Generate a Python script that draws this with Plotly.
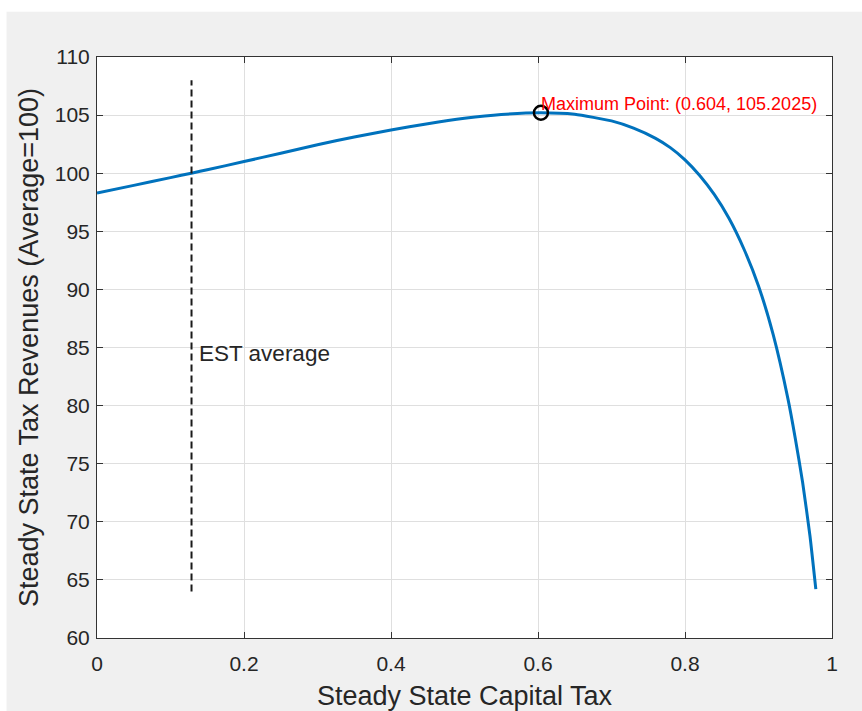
import plotly.graph_objects as go

# Steady-state capital tax rate and resulting tax revenues (average = 100)
capital_tax = [0.00, 0.05, 0.10, 0.13, 0.15, 0.20, 0.25, 0.30, 0.35, 0.40,
               0.45, 0.50, 0.55, 0.604, 0.65, 0.70, 0.73, 0.76, 0.78, 0.80,
               0.82, 0.84, 0.86, 0.88, 0.90, 0.92, 0.94, 0.95, 0.96, 0.97, 0.978]
tax_revenue = [98.30, 98.95, 99.62, 100.02, 100.30, 101.00, 101.72, 102.45, 103.12, 103.72,
               104.26, 104.72, 105.05, 105.2025, 105.07, 104.50, 103.88, 103.00, 102.20, 101.15,
               99.80, 98.15, 96.10, 93.50, 90.30, 86.10, 80.60, 77.20, 73.40, 68.80, 64.20]

# Revenue-maximising point
max_x = 0.604
max_y = 105.2025

# EST average marker line
est_x = [0.1286, 0.1286]
est_y = [64, 108]

x_ticks = [0, 0.2, 0.4, 0.6, 0.8, 1]
x_tick_text = ["0", "0.2", "0.4", "0.6", "0.8", "1"]
y_ticks = [60, 65, 70, 75, 80, 85, 90, 95, 100, 105, 110]
y_tick_text = [str(v) for v in y_ticks]

FONT = "Liberation Sans, Arial, Helvetica, sans-serif"
INK = "#262626"

fig = go.Figure()

fig.add_trace(go.Scatter(
    x=capital_tax, y=tax_revenue, mode="lines",
    line=dict(color="#0072BD", width=3, shape="spline", smoothing=0.5),
    hoverinfo="x+y", showlegend=False,
))

fig.add_trace(go.Scatter(
    x=est_x, y=est_y, mode="lines",
    line=dict(color="#1a1a1a", width=2, dash="7px,4px"),
    showlegend=False,
))

fig.add_trace(go.Scatter(
    x=[max_x], y=[max_y], mode="markers",
    marker=dict(symbol="circle-open", size=14, color="black", line=dict(width=2.5, color="black")),
    showlegend=False,
))

fig.add_annotation(
    x=max_x, y=max_y, xref="x", yref="y",
    text=f"Maximum Point: ({max_x}, {max_y})",
    showarrow=False, xanchor="left", yanchor="bottom", xshift=-2, yshift=-3,
    font=dict(family=FONT, size=18, color="#ff0000"),
)

fig.add_annotation(
    x=est_x[0], y=84.5, xref="x", yref="y",
    text="EST average",
    showarrow=False, xanchor="left", yanchor="middle", xshift=5,
    font=dict(family=FONT, size=22.5, color=INK),
)

# Figure-window background: white strip on top and left, gray elsewhere
fig.add_shape(type="rect", xref="paper", yref="paper",
              x0=-0.2, x1=1.2, y0=1.078, y1=1.2,
              fillcolor="white", line=dict(width=0), layer="below")
fig.add_shape(type="rect", xref="paper", yref="paper",
              x0=-0.2, x1=-0.1231, y0=-0.2, y1=1.2,
              fillcolor="white", line=dict(width=0), layer="below")

axis_common = dict(
    showline=True, linecolor="#333333", linewidth=1, mirror="ticks",
    ticks="inside", ticklen=6, tickcolor="#333333", tickwidth=1,
    showgrid=True, gridcolor="#dfdfdf", gridwidth=1,
    zeroline=False,
    tickfont=dict(family=FONT, size=21, color=INK),
)

fig.update_xaxes(
    range=[0, 1], tickvals=x_ticks, ticktext=x_tick_text, ticklabelstandoff=7,
    title=dict(text="Steady State Capital Tax", font=dict(family=FONT, size=27, color=INK), standoff=14),
    **axis_common,
)
fig.update_yaxes(
    range=[60, 110], tickvals=y_ticks, ticktext=y_tick_text, ticklabelstandoff=2,
    title=dict(text="Steady State Tax Revenues (Average=100)", font=dict(family=FONT, size=27, color=INK), standoff=8),
    **axis_common,
)

fig.update_layout(
    width=862, height=711,
    margin=dict(l=97, r=30, t=57, b=73, autoexpand=False),
    paper_bgcolor="#f0f0f0",
    plot_bgcolor="white",
    font=dict(family=FONT, color=INK),
    showlegend=False,
)

fig.write_html("out.html")
